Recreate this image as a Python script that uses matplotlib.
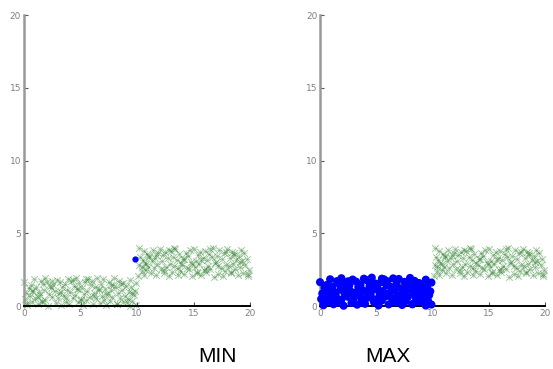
import numpy as np
import matplotlib.pyplot as plt

# cluster A: lower-left block (x 0-10, y 0-2)
a_x = [0.3, 1.2, 2.1, 3.3, 4.0, 5.2, 6.1, 7.3, 8.2, 9.4, 9.9,
       0.7, 1.6, 2.8, 3.7, 4.8, 5.5, 6.7, 7.6, 8.8, 9.6,
       0.1, 1.0, 1.9, 3.0, 4.3, 5.0, 6.4, 7.1, 8.5, 9.2,
       0.5, 1.4, 2.5, 3.5, 4.5, 5.8, 6.9, 7.8, 8.9, 9.7,
       0.2, 1.3, 2.2, 3.1, 4.1, 5.3, 6.2, 7.4, 8.3, 9.3,
       0.8, 1.8, 2.7, 3.8, 4.7, 5.6, 6.6, 7.7, 8.7, 9.8,
       0.4, 1.1, 2.4, 3.4, 4.4, 5.1, 6.3, 7.2, 8.1, 9.5,
       0.6, 1.7, 2.6, 3.6, 4.9, 5.9, 6.8, 7.9, 8.6, 9.0,
       0.0, 1.5, 2.0, 3.2, 4.2, 5.4, 6.0, 7.5, 8.4, 9.9,
       0.9, 1.9, 2.9, 3.9, 4.6, 5.7, 6.5, 7.0, 8.0, 9.4,
       0.3, 1.2, 2.3, 3.3, 4.3, 5.0, 6.6, 7.3, 8.8, 9.1,
       0.7, 1.6, 2.5, 3.7, 4.8, 5.5, 6.2, 7.7, 8.2, 9.6]
a_y = [0.05, 0.12, 0.02, 0.09, 0.15, 0.04, 0.11, 0.07, 0.13, 0.03, 0.10,
       0.28, 0.35, 0.22, 0.31, 0.26, 0.38, 0.24, 0.33, 0.29, 0.36,
       0.48, 0.55, 0.44, 0.52, 0.58, 0.46, 0.53, 0.41, 0.57, 0.50,
       0.68, 0.74, 0.63, 0.71, 0.77, 0.65, 0.72, 0.61, 0.69, 0.75,
       0.86, 0.93, 0.82, 0.90, 0.96, 0.84, 0.91, 0.80, 0.88, 0.95,
       1.05, 1.12, 1.02, 1.09, 1.15, 1.03, 1.10, 1.07, 1.13, 1.01,
       1.25, 1.32, 1.22, 1.29, 1.36, 1.24, 1.31, 1.20, 1.28, 1.34,
       1.45, 1.52, 1.41, 1.48, 1.55, 1.43, 1.50, 1.46, 1.53, 1.40,
       1.64, 1.71, 1.62, 1.68, 1.75, 1.63, 1.70, 1.66, 1.73, 1.61,
       1.84, 1.91, 1.82, 1.88, 1.95, 1.83, 1.90, 1.86, 1.93, 1.81,
       0.18, 0.62, 1.38, 0.95, 1.78, 0.42, 1.20, 0.85, 1.58, 0.30,
       1.00, 0.25, 1.70, 0.55, 1.15, 1.88, 0.70, 1.45, 0.12, 0.90]

# cluster B: upper-right block (x 10-20, y 2-4)
b_x = [19.8, 18.9, 17.6, 16.8, 15.7, 14.9, 13.6, 12.8, 11.7, 10.6, 10.1,
       19.4, 18.3, 17.2, 16.1, 15.3, 14.2, 13.1, 12.4, 11.2, 10.4,
       19.9, 18.7, 17.8, 16.5, 15.9, 14.6, 13.8, 12.1, 11.5, 10.8,
       19.1, 18.1, 17.4, 16.3, 15.1, 14.4, 13.3, 12.6, 11.0, 10.2,
       19.6, 18.5, 17.9, 16.9, 15.5, 14.0, 13.9, 12.9, 11.8, 10.7,
       19.3, 18.8, 17.0, 16.2, 15.2, 14.8, 13.5, 12.2, 11.3, 10.5,
       19.7, 18.2, 17.5, 16.6, 15.8, 14.1, 13.2, 12.7, 11.6, 10.3,
       19.0, 18.6, 17.1, 16.4, 15.4, 14.5, 13.7, 12.3, 11.1, 10.9,
       19.5, 18.4, 17.7, 16.0, 15.6, 14.3, 13.0, 12.5, 11.9, 10.6,
       19.2, 18.0, 17.3, 16.7, 15.0, 14.7, 13.4, 12.0, 11.4, 10.2,
       19.8, 18.6, 17.2, 16.5, 15.3, 14.2, 13.6, 12.8, 11.1, 10.8,
       19.1, 18.3, 17.9, 16.1, 15.7, 14.9, 13.3, 12.4, 11.7, 10.4]
b_y = [2.04, 2.13, 2.08, 2.01, 2.16, 2.06, 2.12, 2.03, 2.10, 2.14, 2.07,
       2.25, 2.33, 2.21, 2.37, 2.28, 2.23, 2.35, 2.30, 2.26, 2.39,
       2.46, 2.52, 2.43, 2.57, 2.49, 2.55, 2.42, 2.51, 2.58, 2.45,
       2.66, 2.73, 2.62, 2.77, 2.69, 2.64, 2.75, 2.71, 2.67, 2.79,
       2.85, 2.92, 2.83, 2.97, 2.88, 2.81, 2.94, 2.90, 2.86, 2.99,
       3.06, 3.13, 3.02, 3.17, 3.09, 3.04, 3.15, 3.11, 3.07, 3.19,
       3.26, 3.33, 3.22, 3.37, 3.28, 3.24, 3.35, 3.31, 3.27, 3.39,
       3.45, 3.52, 3.43, 3.57, 3.48, 3.42, 3.55, 3.50, 3.46, 3.59,
       3.66, 3.73, 3.62, 3.77, 3.69, 3.64, 3.75, 3.71, 3.67, 3.79,
       3.86, 3.93, 3.82, 3.97, 3.89, 3.84, 3.95, 3.91, 3.87, 4.02,
       2.18, 3.62, 2.78, 3.95, 2.35, 3.20, 2.60, 3.85, 3.40, 2.90,
       3.00, 2.25, 3.70, 2.55, 3.15, 2.88, 3.98, 2.45, 3.52, 2.70]

# lone blue point in MIN panel
min_pt_x = [9.8]
min_pt_y = [3.2]

ticks = [0, 5, 10, 15, 20]
green = '#2a7f2a'
blue = '#0000ff'

fig = plt.figure(figsize=(5.53, 3.69), dpi=100)
ax1 = fig.add_axes([0.0434, 0.1707, 0.4087, 0.7886])
ax2 = fig.add_axes([0.5787, 0.1707, 0.4069, 0.7886])

def style(ax):
    ax.set_xlim(0, 20)
    ax.set_ylim(0, 20)
    ax.set_xticks(ticks)
    ax.set_yticks(ticks)
    ax.tick_params(direction='in', length=3, width=0.8, labelsize=6.5,
                   labelcolor='#808080', colors='#555555', pad=2)
    for s in ['top', 'right']:
        ax.spines[s].set_visible(False)
    ax.spines['left'].set_color('#999999')
    ax.spines['left'].set_linewidth(1.8)
    ax.spines['bottom'].set_color('black')
    ax.spines['bottom'].set_linewidth(1.4)

def green_cloud(ax, xs, ys):
    ax.scatter(xs, ys, marker='x', s=22, linewidths=0.7, color=green, alpha=0.45, clip_on=False)
    ax.scatter(xs, ys, marker='+', s=14, linewidths=0.5, color=green, alpha=0.3, clip_on=False)

# MIN panel
green_cloud(ax1, a_x, a_y)
green_cloud(ax1, b_x, b_y)
ax1.scatter(min_pt_x, min_pt_y, marker='o', s=12, color=blue, zorder=3)
style(ax1)

# MAX panel
green_cloud(ax2, b_x, b_y)
ax2.scatter(a_x, a_y, marker='o', s=34, color=blue, edgecolors='none', clip_on=False, zorder=3)
style(ax2)

fig.text(218 / 553, 1 - 356 / 369, 'MIN', ha='center', va='center', fontsize=15, family='Liberation Sans')
fig.text(388 / 553, 1 - 356 / 369, 'MAX', ha='center', va='center', fontsize=15, family='Liberation Sans')

fig.savefig('out.png', dpi=100)
